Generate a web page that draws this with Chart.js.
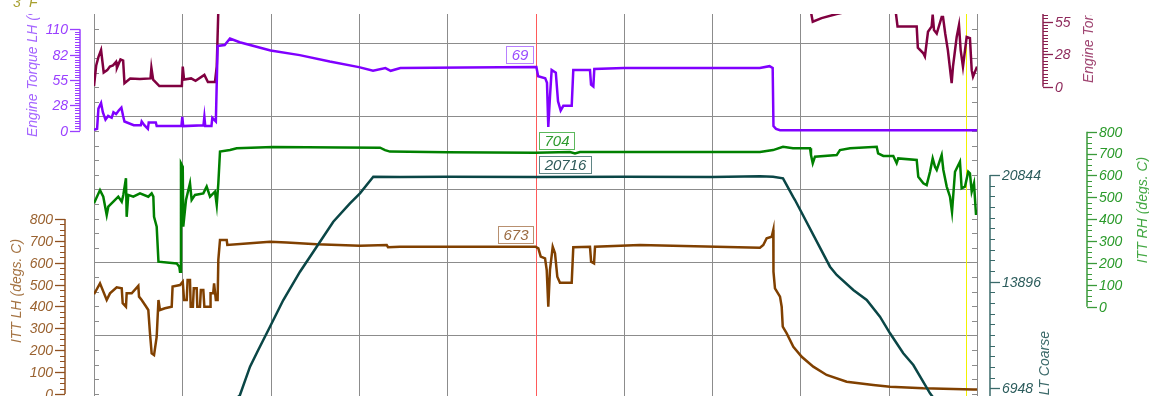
<!DOCTYPE html>
<html>
<head>
<meta charset="utf-8">
<title>Engine trend</title>
<script src="https://cdn.jsdelivr.net/npm/chart.js@4.4.0/dist/chart.umd.min.js"></script>
<style>
  html, body { margin: 0; padding: 0; background: #ffffff; }
  #wrap { position: relative; width: 1149px; height: 396px; }
</style>
</head>
<body>
<div id="wrap"><canvas id="trendChart"></canvas></div>
<script>
// ---- data (x = percent of the recording window, y = engineering value) ----
const TORQUE_LH = [
  [0, 1], [0.35, 2], [0.5, 24], [0.8, 30], [1.0, 20], [1.3, 12], [1.6, 16], [2.0, 14], [2.2, 20],
  [2.5, 18], [2.8, 22], [3.1, 25], [3.3, 16], [3.45, 10], [4.5, 6], [5.3, 6], [5.4, 10], [5.7, 6],
  [6.1, 2], [6.2, 9], [7.0, 9], [7.1, 5], [9.9, 5], [10.0, 15], [10.1, 5], [12.4, 6], [12.5, 15],
  [12.6, 5], [13.3, 5], [13.4, 14], [13.8, 10], [14.0, 92], [14.8, 93], [15.4, 100], [16.5, 96],
  [20, 87], [23.3, 82], [26.7, 75], [30, 69], [31.6, 65], [33, 68], [33.6, 65], [34.7, 68],
  [42, 68.5], [50, 69], [50.1, 69], [50.3, 59], [51.1, 57], [51.3, 52], [51.45, 4], [51.64, 37],
  [51.83, 66], [52.3, 63], [52.55, 32], [52.85, 22], [53.15, 27], [54.1, 27], [54.28, 66],
  [56.17, 66], [56.29, 50], [56.55, 48], [56.66, 67], [60, 68], [70, 68], [75.4, 68], [76.5, 70],
  [76.86, 68], [76.95, 5], [77.24, 2], [77.7, 0.5], [100, 0.5]
];

const TORQUE_RH = [
  [0, 0.5], [0.25, 18], [0.5, 25], [0.8, 31], [1.1, 12], [1.5, 14], [1.8, 17], [2.15, 18],
  [2.5, 21], [2.6, 16], [3.0, 23], [3.3, 22], [3.45, 3], [4.1, 7], [5.2, 6.5], [6.4, 7], [6.5, 16],
  [6.7, 6], [7.4, 0.5], [9.95, 0.5], [10.05, 17], [10.2, 6], [11, 7], [11.5, 5], [12.5, 10],
  [12.9, 4], [13.7, 4], [13.9, 17], [14.1, 70], [20, 72], [50, 69], [76.5, 70], [77, 68],
  [81.2, 63], [81.4, 55], [82.4, 58], [84.1, 61.5], [85, 63], [90.8, 63], [91.0, 51], [93.17, 51],
  [93.3, 33], [93.9, 28.5], [94.1, 25.5], [94.45, 46.5], [94.87, 51], [94.98, 61], [95.13, 48],
  [95.44, 45], [96.0, 59], [96.15, 59], [96.4, 45], [96.7, 31], [97.13, 3], [97.28, 17],
  [97.7, 42], [97.96, 52], [98.15, 31], [98.41, 17], [98.83, 42], [99.2, 41], [99.4, 14],
  [99.55, 8.5], [100, 17]
];

const ITT_RH = [
  [0, 473], [0.68, 533], [1.05, 503], [1.44, 419], [1.62, 457], [2.19, 480], [2.75, 503],
  [3.14, 480], [3.32, 511], [3.62, 587], [3.7, 411], [3.88, 511], [4.45, 503], [5.21, 518],
  [6.15, 503], [6.53, 518], [6.72, 503], [6.8, 411], [7.1, 366], [7.3, 206], [9.37, 198],
  [9.66, 183], [9.74, 160], [9.85, 656], [10.05, 640], [10.11, 366], [10.42, 488], [10.87, 564],
  [11.06, 488], [11.44, 511], [12.38, 518], [12.76, 549], [13.14, 503], [13.7, 526], [13.9, 465],
  [14.08, 564], [14.27, 709], [15.4, 716], [16.16, 724], [20.27, 730], [28, 728], [32.4, 727],
  [32.96, 716], [33.52, 709], [40, 706], [50, 704], [53.9, 707], [54.47, 701], [55.04, 707],
  [75.42, 707], [76.9, 716], [78.03, 731], [79.16, 724], [81.09, 724], [81.2, 693], [81.4, 656],
  [81.65, 686], [84.11, 693], [84.48, 716], [85.62, 724], [88.64, 731], [88.8, 701], [89.39, 689],
  [90.52, 689], [90.9, 656], [91.08, 678], [93.17, 671], [93.35, 594], [93.92, 564], [94.3, 556],
  [94.68, 617], [94.98, 678], [95.24, 640], [95.44, 625], [96.0, 693], [96.19, 625], [96.57, 549],
  [96.94, 503], [97.17, 433], [97.51, 617], [98.07, 663], [98.26, 541], [98.64, 549], [99.01, 617],
  [99.2, 610], [99.4, 526], [99.66, 564], [99.89, 419]
];

const ALT_COARSE = [
  [16.0, 6200], [16.53, 6511], [17.67, 8355], [18.6, 9443], [19.93, 10961], [21.44, 12700],
  [23.33, 14544], [25.22, 16173], [27.1, 17801], [28.99, 18999], [30.12, 19651], [31.63, 20733],
  [34.65, 20716], [40, 20733], [50, 20716], [60, 20733], [70, 20716], [75.42, 20760], [76.9, 20733],
  [78.03, 20629], [79.16, 19430], [79.39, 19215], [83.35, 14870], [84.11, 14329], [85.99, 13352],
  [87.51, 12700], [89.01, 11612], [90.15, 10531], [91.65, 9228], [92.79, 8466], [94.68, 6622],
  [95.5, 6000]
];

const ITT_LH = [
  [0, 456], [0.68, 506], [1.44, 430], [1.81, 460], [2.57, 488], [3.14, 483], [3.25, 415],
  [3.62, 399], [3.7, 460], [4.27, 460], [5.02, 494], [5.1, 445], [5.4, 430], [5.78, 407],
  [6.15, 384], [6.34, 277], [6.53, 186], [6.8, 178], [7.1, 262], [7.3, 430], [7.47, 384],
  [8.04, 392], [8.8, 399], [8.9, 491], [9.74, 498], [10.05, 513], [10.2, 430], [10.5, 430],
  [10.6, 521], [10.87, 521], [10.95, 399], [11.2, 399], [11.3, 483], [11.63, 483], [11.7, 399],
  [12.0, 399], [12.1, 475], [12.38, 475], [12.5, 399], [13.14, 399], [13.2, 460], [13.5, 460],
  [13.6, 506], [13.8, 430], [14.0, 430], [14.08, 613], [14.27, 704], [15.03, 704], [15.1, 681],
  [17.67, 689], [19.93, 696], [21.82, 692], [25.22, 684], [30.12, 678], [33.15, 681], [33.3, 671],
  [34.65, 673], [50, 673], [50.32, 666], [50.59, 628], [51.08, 620], [51.27, 567], [51.45, 399],
  [51.64, 567], [51.95, 673], [52.21, 643], [52.47, 536], [52.77, 509], [54.1, 509], [54.28, 671],
  [56.17, 673], [56.3, 605], [56.63, 597], [56.74, 673], [61.83, 681], [75.42, 669], [75.8, 681],
  [76.18, 712], [76.75, 719], [76.93, 750], [76.95, 559], [77.12, 483], [77.69, 445], [77.88, 399],
  [78.0, 308], [78.45, 277], [79.2, 216], [80.15, 170], [81.46, 125], [82.97, 87], [85.24, 56],
  [88.25, 41], [90.15, 33], [93.92, 26], [99.58, 21], [100, 21]
];

// cursor readout and marker
const CURSOR_X = 50;
const MARKER_X = 98.72;
const CURSOR_READOUT = ['69', '704', '20716', '673'];

// axis tick values and labels
const TORQUE_LH_TICKS = [0, 27.5, 55, 82.5, 110];
const TORQUE_LH_LABELS = ['0', '28', '55', '82', '110'];
const TORQUE_RH_TICKS = [0, 27.5, 55];
const TORQUE_RH_LABELS = ['0', '28', '55'];
const ITT_TICKS = [0, 100, 200, 300, 400, 500, 600, 700, 800];
const ALT_TICKS = [6948, 13896, 20844];

const TICK_FONT = 'italic 14px "Liberation Sans", Arial, sans-serif';
const BOX_FONT = 'italic 15px "Liberation Sans", Arial, sans-serif';

const toXY = arr => arr.map(p => ({ x: p[0], y: p[1] }));

const AXES = [
  { scale: 'yTqL', x: 80, side: 'left', lineFrom: 0, lineTo: 110, minor: 2.75,
    ticks: TORQUE_LH_TICKS, labels: TORQUE_LH_LABELS, color: '#9a40ff', text: '#9a40ff', titleColor: '#a566ff',
    title: 'Engine Torque LH (%)', titleX: 33, titleY: 137, titleAlign: 'left', clipTop: 14 },
  { scale: 'yTqR', x: 1043, side: 'right', lineFrom: 0, lineTo: 61.5, minor: 2.75,
    ticks: TORQUE_RH_TICKS, labels: TORQUE_RH_LABELS, color: '#8a2050', text: '#8e2a5c', titleColor: '#a04672',
    title: 'Engine Torque RH (%)', titleX: 1089, titleY: 83, titleAlign: 'left', clipTop: 15 },
  { scale: 'yIttR', x: 1087, side: 'right', lineFrom: 0, lineTo: 800, minor: 25,
    ticks: ITT_TICKS, labels: ITT_TICKS.map(String), color: '#3a9a3a', text: '#2a9a2a', titleColor: '#44a844',
    title: 'ITT RH (degs. C)', titleX: 1143, titleY: 210, titleAlign: 'center', clipTop: 0 },
  { scale: 'yAlt', x: 990, side: 'right', lineFrom: 6446, lineTo: 20844, minor: 694.8,
    ticks: ALT_TICKS, labels: ALT_TICKS.map(String), color: '#3a6a6a', text: '#2c5c5c', titleColor: '#3c6a6a',
    title: 'ALT Coarse', titleX: 1045, titleY: 331, titleAlign: 'right', clipTop: 0 },
  { scale: 'yIttL', x: 65, side: 'left', lineFrom: 0, lineTo: 800, minor: 25,
    ticks: ITT_TICKS, labels: ITT_TICKS.map(String), color: '#905020', text: '#9a6230', titleColor: '#a57444',
    title: 'ITT LH (degs. C)', titleX: 17, titleY: 291, titleAlign: 'center', clipTop: 0 }
];

function hline(ctx, x1, x2, y) {
  ctx.beginPath();
  ctx.moveTo(x1, Math.round(y) + 0.5);
  ctx.lineTo(x2, Math.round(y) + 0.5);
  ctx.stroke();
}
function vline(ctx, x, y1, y2) {
  ctx.beginPath();
  ctx.moveTo(Math.round(x) + 0.5, y1);
  ctx.lineTo(Math.round(x) + 0.5, y2);
  ctx.stroke();
}

// grid, frame and cursor lines behind the traces
const gridPlugin = {
  id: 'gridPlugin',
  beforeDatasetsDraw(chart) {
    const { ctx, chartArea: a, scales } = chart;
    const bottom = chart.height;
    ctx.save();
    ctx.strokeStyle = '#8c8c8c';
    ctx.lineWidth = 1;
    for (let v = 10; v < 100; v += 10) {
      if (v === CURSOR_X) continue;
      vline(ctx, scales.x.getPixelForValue(v), a.top, bottom);
    }
    for (let g = 1; g <= 5; g++) hline(ctx, a.left, a.right, scales.yGrid.getPixelForValue(g));
    // frame with small ticks
    vline(ctx, a.left, a.top, bottom);
    vline(ctx, a.right, a.top, bottom);
    for (let g = 0.2; g < 5.4; g += 0.2) {
      const y = scales.yGrid.getPixelForValue(g);
      if (y < a.top + 2 || y > bottom) continue;
      hline(ctx, a.left, a.left + 5, y);
      hline(ctx, a.right - 5, a.right, y);
    }
    // cursor and marker
    ctx.strokeStyle = '#ff5a5a';
    vline(ctx, scales.x.getPixelForValue(CURSOR_X), a.top, bottom);
    ctx.strokeStyle = '#f2f200';
    vline(ctx, scales.x.getPixelForValue(MARKER_X), a.top, bottom);
    ctx.restore();
  }
};

function drawBox(ctx, text, x, side, yLine, textColor, border) {
  ctx.font = BOX_FONT;
  const w = Math.round(ctx.measureText(text).width) + 10;
  const h = 17;
  const y0 = Math.round(yLine) - 4 - h;
  const x0 = side === 'left' ? Math.round(x) - 3 - w : Math.round(x) + 3;
  ctx.fillStyle = '#ffffff';
  ctx.fillRect(x0, y0, w, h);
  ctx.strokeStyle = border;
  ctx.lineWidth = 1;
  ctx.strokeRect(x0 + 0.5, y0 + 0.5, w, h);
  ctx.fillStyle = textColor;
  ctx.textAlign = 'center';
  ctx.textBaseline = 'middle';
  ctx.fillText(text, x0 + w / 2 + 0.5, y0 + h / 2 + 1);
}

const readoutPlugin = {
  id: 'readoutPlugin',
  afterDatasetsDraw(chart) {
    const { ctx, scales } = chart;
    const cx = scales.x.getPixelForValue(CURSOR_X);
    ctx.save();
    drawBox(ctx, CURSOR_READOUT[0], cx, 'left', scales.yTqL.getPixelForValue(+CURSOR_READOUT[0]), '#9a4cff', '#b880ff');
    drawBox(ctx, CURSOR_READOUT[1], cx, 'right', scales.yIttR.getPixelForValue(+CURSOR_READOUT[1]), '#2e9a2e', '#5cb85c');
    drawBox(ctx, CURSOR_READOUT[2], cx, 'right', scales.yAlt.getPixelForValue(+CURSOR_READOUT[2]), '#2f5a5a', '#5f8585');
    drawBox(ctx, CURSOR_READOUT[3], cx, 'left', scales.yIttL.getPixelForValue(+CURSOR_READOUT[3]), '#9a6a40', '#b89070');
    ctx.restore();
  }
};

function drawAxis(chart, ax) {
  const ctx = chart.ctx;
  const s = chart.scales[ax.scale];
  const top = chart.chartArea.top;
  const bottom = chart.height;
  const dir = ax.side === 'left' ? -1 : 1;
  ctx.save();
  ctx.strokeStyle = ax.color;
  ctx.lineWidth = 1.5;
  const yA = Math.min(bottom, s.getPixelForValue(ax.lineFrom));
  const yB = Math.max(top, s.getPixelForValue(ax.lineTo));
  ctx.beginPath();
  ctx.moveTo(ax.x, yA);
  ctx.lineTo(ax.x, yB);
  ctx.stroke();
  ctx.lineWidth = 1;
  const start = ax.ticks[0];
  for (let v = start; v <= ax.lineTo + 1e-6; v += ax.minor) {
    const y = s.getPixelForValue(v);
    if (y < top || y > bottom) continue;
    hline(ctx, ax.x, ax.x + dir * 5, y);
  }
  ctx.lineWidth = 1.3;
  ctx.font = TICK_FONT;
  ctx.fillStyle = ax.text;
  ctx.textAlign = ax.side === 'left' ? 'right' : 'left';
  ctx.textBaseline = 'middle';
  ax.ticks.forEach((v, i) => {
    const y = s.getPixelForValue(v);
    hline(ctx, ax.x, ax.x + dir * 10, y);
    ctx.fillText(ax.labels[i], ax.x + dir * 12, y + 1);
  });
  // rotated title
  ctx.beginPath();
  ctx.rect(0, ax.clipTop, chart.width, chart.height);
  ctx.clip();
  ctx.translate(ax.titleX, ax.titleY);
  ctx.rotate(-Math.PI / 2);
  ctx.textAlign = ax.titleAlign;
  ctx.fillStyle = ax.titleColor;
  ctx.fillText(ax.title, 0, 0);
  ctx.restore();
}

const axesPlugin = {
  id: 'axesPlugin',
  afterDraw(chart) {
    AXES.forEach(ax => drawAxis(chart, ax));
    const ctx = chart.ctx;
    ctx.save();
    ctx.font = TICK_FONT;
    ctx.fillStyle = '#a8a030';
    ctx.textAlign = 'left';
    ctx.textBaseline = 'alphabetic';
    ctx.fillText('3', 13, 7);
    ctx.fillText('F', 29, 7);
    ctx.restore();
  }
};

const line = (data, axis, color, order) => ({
  data: toXY(data),
  yAxisID: axis,
  borderColor: color,
  backgroundColor: color,
  borderWidth: 2.5,
  pointRadius: 0,
  tension: 0,
  fill: false,
  order: order
});

new Chart(document.getElementById('trendChart'), {
  type: 'line',
  data: {
    datasets: [
      line(ALT_COARSE, 'yAlt', '#0a4646', 1),
      line(ITT_LH, 'yIttL', '#804000', 2),
      line(ITT_RH, 'yIttR', '#008000', 3),
      line(TORQUE_LH, 'yTqL', '#8000ff', 4),
      line(TORQUE_RH, 'yTqR', '#800040', 5)
    ]
  },
  options: {
    responsive: true,
    maintainAspectRatio: false,
    animation: false,
    layout: { padding: { left: 94, right: 172, top: 14, bottom: 0 } },
    plugins: { legend: { display: false }, tooltip: { enabled: false } },
    scales: {
      x: { type: 'linear', min: 0, max: 100, display: false },
      yTqL: { min: -287.7, max: 126.6, display: false },
      yTqR: { min: -261.7, max: 61.5, display: false },
      yIttR: { min: -408.2, max: 1338, display: false },
      yAlt: { min: 6446, max: 31333, display: false },
      yIttL: { min: -9.1, max: 1737, display: false },
      yGrid: { min: 0.171, max: 5.404, display: false }
    }
  },
  plugins: [gridPlugin, readoutPlugin, axesPlugin]
});
</script>
</body>
</html>
